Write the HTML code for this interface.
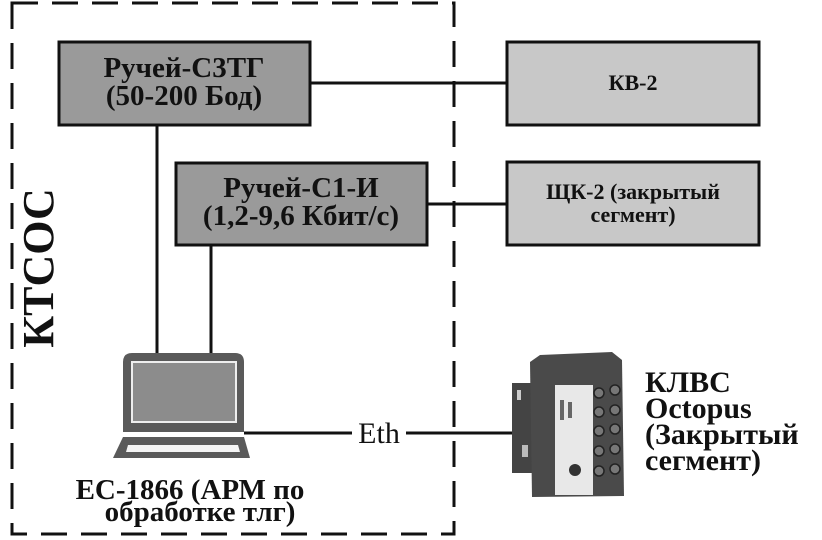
<!DOCTYPE html>
<html><head><meta charset="utf-8"><style>
body{margin:0;background:#fff;}
svg{display:block;}
text{font-family:"Liberation Serif","DejaVu Serif",serif;font-weight:bold;fill:#111;}
</style></head><body>
<svg width="822" height="540" viewBox="0 0 822 540" xmlns="http://www.w3.org/2000/svg">
<rect x="12" y="3" width="442" height="531" fill="none" stroke="#111" stroke-width="3" stroke-dasharray="26,14"/>
<line x1="310" y1="83" x2="507" y2="83" stroke="#111" stroke-width="3"/>
<line x1="427" y1="204" x2="507" y2="204" stroke="#111" stroke-width="3"/>
<line x1="157" y1="125" x2="157" y2="354" stroke="#111" stroke-width="3"/>
<line x1="211" y1="245" x2="211" y2="354" stroke="#111" stroke-width="3"/>
<line x1="244" y1="433" x2="352" y2="433" stroke="#111" stroke-width="3"/>
<line x1="406" y1="433" x2="514" y2="433" stroke="#111" stroke-width="3"/>
<rect x="59" y="42" width="251" height="83" fill="#9a9a9a" stroke="#111" stroke-width="3"/>
<text x="184" y="77" font-size="29" text-anchor="middle">Ручей-С3ТГ</text>
<text x="184" y="105" font-size="29" text-anchor="middle">(50-200 Бод)</text>
<rect x="176" y="163" width="251" height="82" fill="#9a9a9a" stroke="#111" stroke-width="3"/>
<text x="301" y="197" font-size="29" text-anchor="middle">Ручей-С1-И</text>
<text x="301" y="225" font-size="29" text-anchor="middle">(1,2-9,6 Кбит/с)</text>
<rect x="507" y="42" width="252" height="83" fill="#c8c8c8" stroke="#111" stroke-width="3"/>
<text x="633" y="90" font-size="22" text-anchor="middle">КВ-2</text>
<rect x="507" y="162" width="252" height="83" fill="#c8c8c8" stroke="#111" stroke-width="3"/>
<text x="633" y="199" font-size="22" text-anchor="middle">ЩК-2 (закрытый</text>
<text x="633" y="222" font-size="22" text-anchor="middle">сегмент)</text>
<text transform="translate(53,268) rotate(-90)" font-size="44" text-anchor="middle">КТСОС</text>
<path d="M123 432 V362 Q123 353 132 353 H235 Q244 353 244 362 V432 Z" fill="#5a5a5a"/>
<rect x="132" y="362" width="104" height="60" fill="#8c8c8c" stroke="#eee" stroke-width="2"/>
<path d="M123 437 H244 L250 458 H113 Z" fill="#5a5a5a"/>
<path d="M128 445 H238 L240 452 H126 Z" fill="#f4f4f4"/>
<text x="190" y="499" font-size="29" text-anchor="middle">ЕС-1866 (АРМ по</text>
<text x="200" y="521" font-size="29" text-anchor="middle">обработке тлг)</text>
<text x="379" y="443" font-size="30" text-anchor="middle" style="font-weight:normal">Eth</text>
<rect x="512" y="383" width="20" height="90" fill="#444"/>
<rect x="517" y="390" width="4" height="10" fill="#ccc"/>
<rect x="522" y="445" width="6" height="12" fill="#bbb"/>
<path d="M530 362 L540 355 L612 352 L622 360 L624 496 L532 497 Z" fill="#4a4a4a"/>
<rect x="555" y="385" width="38" height="110" fill="#e8e8e8"/>
<rect x="560" y="400" width="4" height="20" fill="#666"/>
<rect x="568" y="402" width="4" height="16" fill="#666"/>
<circle cx="575" cy="470" r="6" fill="#333"/>
<g fill="#777" stroke="#222" stroke-width="1.5">
<circle cx="599" cy="393" r="5"/><circle cx="615" cy="390" r="5"/>
<circle cx="599" cy="412" r="5"/><circle cx="615" cy="410" r="5"/>
<circle cx="599" cy="431" r="5"/><circle cx="615" cy="429" r="5"/>
<circle cx="599" cy="451" r="5"/><circle cx="615" cy="449" r="5"/>
<circle cx="599" cy="471" r="5"/><circle cx="615" cy="469" r="5"/>
</g>
<text x="645" y="392" font-size="30">КЛВС</text>
<text x="645" y="418" font-size="30">Octopus</text>
<text x="645" y="444" font-size="30">(Закрытый</text>
<text x="645" y="470" font-size="30">сегмент)</text>
</svg>
</body></html>
